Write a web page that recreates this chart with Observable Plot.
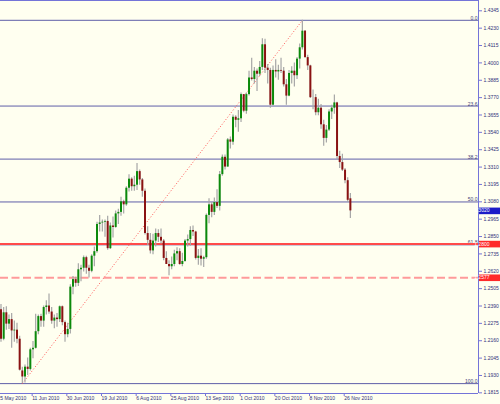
<!DOCTYPE html>
<html>
<head>
<meta charset="utf-8">
<script src="https://cdn.jsdelivr.net/npm/d3@7"></script>
<script src="https://cdn.jsdelivr.net/npm/@observablehq/plot@0.6"></script>
<style>
  html, body { margin: 0; padding: 0; background: #fffff0; }
  #chart { width: 500px; height: 404px; overflow: hidden; }
</style>
</head>
<body>
<div id="chart"></div>
<script>
// ---- Daily candles (EUR/USD, late May - 30 Nov 2010), one value per bar ----
const open = [
  1.2365,1.2170,1.2345,1.2270,1.2300,1.2225,1.2230,1.2170,1.1960,1.1920,1.1985,1.1970,1.2100,
  1.2110,1.2220,1.2320,1.2290,1.2380,1.2390,1.2350,1.2290,1.2310,1.2300,1.2385,1.2280,1.2200,
  1.2235,1.2515,1.2565,1.2540,1.2630,1.2640,1.2710,1.2640,1.2620,1.2720,1.2750,1.2930,1.2940,
  1.2945,1.2950,1.2770,1.2920,1.2910,1.3000,1.3010,1.3080,1.3060,1.3170,1.3230,1.3180,1.3190,
  1.3280,1.3225,1.3150,1.2870,1.2825,1.2755,1.2820,1.2870,1.2845,1.2820,1.2705,1.2665,1.2650,
  1.2665,1.2735,1.2750,1.2665,1.2685,1.2820,1.2830,1.2890,1.2880,1.2705,1.2720,1.2700,1.2710,
  1.2990,1.3060,1.3010,1.3075,1.3050,1.3260,1.3375,1.3310,1.3490,1.3475,1.3640,1.3620,1.3630,
  1.3790,1.3680,1.3790,1.3900,1.3890,1.3945,1.3925,1.3970,1.4120,1.3965,1.3950,1.3720,1.3950,
  1.3940,1.3950,1.3945,1.3855,1.3780,1.3930,1.3945,1.3915,1.4025,1.4100,1.4210,1.4035,1.3980,
  1.3770,1.3770,1.3670,1.3700,1.3590,1.3500,1.3555,1.3675,1.3700,1.3735,1.3380,1.3340,1.3290,
  1.3220,1.3100
];
const high = [
  1.2400,1.2380,1.2385,1.2330,1.2340,1.2290,1.2275,1.2190,1.1985,1.2000,1.2045,1.2110,1.2155,
  1.2336,1.2330,1.2335,1.2390,1.2425,1.2470,1.2380,1.2330,1.2340,1.2390,1.2390,1.2290,1.2275,
  1.2530,1.2585,1.2580,1.2670,1.2660,1.2722,1.2720,1.2660,1.2730,1.2780,1.2945,1.2990,1.2960,
  1.2960,1.2985,1.2940,1.2980,1.3020,1.3030,1.3110,1.3090,1.3180,1.3260,1.3240,1.3250,1.3333,
  1.3290,1.3235,1.3165,1.2915,1.2870,1.2865,1.2900,1.2895,1.2900,1.2830,1.2750,1.2690,1.2715,
  1.2760,1.2775,1.2770,1.2740,1.2830,1.2860,1.2915,1.2920,1.2885,1.2765,1.2770,1.2720,1.3000,
  1.3100,1.3075,1.3105,1.3160,1.3280,1.3390,1.3390,1.3500,1.3510,1.3655,1.3650,1.3685,1.3800,
  1.3790,1.3800,1.3945,1.4030,1.3970,1.3960,1.4010,1.4160,1.4157,1.3990,1.3965,1.3980,1.4020,
  1.3985,1.4030,1.3970,1.3890,1.3950,1.3975,1.4000,1.4035,1.4125,1.4282,1.4215,1.4050,1.3985,
  1.3820,1.3790,1.3760,1.3725,1.3620,1.3585,1.3690,1.3720,1.3787,1.3740,1.3415,1.3395,1.3300,
  1.3240,1.3135
];
const low = [
  1.2150,1.2160,1.2230,1.2235,1.2111,1.2150,1.2140,1.1960,1.1876,1.1880,1.1930,1.1960,1.2040,
  1.2105,1.2200,1.2250,1.2250,1.2330,1.2335,1.2270,1.2240,1.2250,1.2280,1.2260,1.2150,1.2180,
  1.2205,1.2465,1.2515,1.2520,1.2550,1.2615,1.2600,1.2575,1.2610,1.2650,1.2740,1.2880,1.2880,
  1.2845,1.2760,1.2765,1.2840,1.2905,1.2930,1.2985,1.3000,1.3050,1.3145,1.3150,1.3150,1.3155,
  1.3190,1.3110,1.2860,1.2790,1.2735,1.2730,1.2780,1.2810,1.2800,1.2690,1.2665,1.2590,1.2630,
  1.2650,1.2690,1.2660,1.2650,1.2680,1.2780,1.2785,1.2850,1.2695,1.2660,1.2655,1.2645,1.2700,
  1.2935,1.2975,1.2990,1.3035,1.3020,1.3250,1.3290,1.3310,1.3430,1.3455,1.3570,1.3540,1.3605,
  1.3670,1.3660,1.3780,1.3880,1.3860,1.3810,1.3910,1.3950,1.3930,1.3860,1.3700,1.3715,1.3900,
  1.3885,1.3930,1.3840,1.3720,1.3775,1.3860,1.3840,1.3890,1.3960,1.4085,1.4030,1.3950,1.3765,
  1.3690,1.3650,1.3650,1.3560,1.3448,1.3470,1.3545,1.3625,1.3660,1.3357,1.3300,1.3280,1.3200,
  1.3075,1.2969
];
const close = [
  1.2170,1.2345,1.2270,1.2300,1.2225,1.2230,1.2170,1.1965,1.1920,1.1985,1.1970,1.2100,1.2110,
  1.2220,1.2320,1.2290,1.2380,1.2390,1.2350,1.2290,1.2310,1.2300,1.2385,1.2280,1.2200,1.2235,
  1.2515,1.2565,1.2540,1.2630,1.2640,1.2710,1.2640,1.2620,1.2720,1.2750,1.2930,1.2940,1.2945,
  1.2950,1.2770,1.2920,1.2910,1.3000,1.3010,1.3080,1.3060,1.3170,1.3230,1.3180,1.3190,1.3280,
  1.3225,1.3150,1.2870,1.2825,1.2755,1.2820,1.2870,1.2845,1.2820,1.2705,1.2665,1.2650,1.2665,
  1.2735,1.2750,1.2665,1.2685,1.2820,1.2830,1.2890,1.2880,1.2705,1.2720,1.2700,1.2710,1.2990,
  1.3060,1.3010,1.3075,1.3050,1.3260,1.3375,1.3310,1.3490,1.3475,1.3640,1.3620,1.3630,1.3790,
  1.3680,1.3790,1.3900,1.3890,1.3945,1.3925,1.3970,1.4120,1.3965,1.3950,1.3720,1.3950,1.3940,
  1.3950,1.3945,1.3855,1.3780,1.3930,1.3945,1.3915,1.4025,1.4100,1.4210,1.4035,1.3980,1.3770,
  1.3770,1.3670,1.3700,1.3590,1.3500,1.3555,1.3675,1.3700,1.3735,1.3380,1.3340,1.3290,1.3220,
  1.3090,1.3020
];

// ---- Axis ticks ----
const priceTicks = d3.range(0, 23).map(k => +(1.4345 - k * 0.0115).toFixed(4));
const dateTickBars = [0, 13, 26, 39, 52, 65, 78, 91, 104, 117, 130];
const dateTickLabels = ["25 May 2010", "11 Jun 2010", "30 Jun 2010", "19 Jul 2010", "6 Aug 2010",
  "25 Aug 2010", "13 Sep 2010", "1 Oct 2010", "20 Oct 2010", "8 Nov 2010", "26 Nov 2010"];

// ---- Fibonacci retracement levels (percent) ----
const fibLevels = [0, 23.6, 38.2, 50, 61.8, 100];
const fibLabels = ["0.0", "23.6", "38.2", "50.0", "61.8", "100.0"];

// ---- Horizontal price lines and price tags ----
const alertSolid = [1.2800];
const alertDashed = [1.2577];
const bidPrice = [1.3020];
const redTags = [1.2800, 1.2577];

// ---- build tables ----
const bars = open.map((o, k) => ({i: k + 1, o, h: high[k], l: low[k], c: close[k]}));
const hiBar = bars.reduce((a, b) => (b.h > a.h ? b : a));
const loBar = bars.reduce((a, b) => (b.l < a.l ? b : a));
const fibs = fibLevels.map((lv, k) => ({y: hiBar.h - lv / 100 * (hiBar.h - loBar.l), label: fibLabels[k]}));
const tickPos = dateTickBars.map(b => b - 0.5);
const tickLabelMap = new Map(tickPos.map((p, k) => [p, dateTickLabels[k]]));

const xDomain = [0.814, 180.04];
const yDomain = [1.18106, 1.44132];

const axisBlue = "#7474d8";
const textBlue = "#30307a";
const fibBlue = "#5f5fa8";
const bull = "#0b8a0b";
const bear = "#8a1212";
const wick = "#a6a6a6";

const tagShape = {draw(ctx) { ctx.rect(-10.5, -3.3, 21, 6.6); }};

const chart = Plot.plot({
  width: 500, height: 404,
  marginLeft: 0, marginRight: 22, marginTop: 0, marginBottom: 11,
  x: {domain: xDomain, axis: null},
  y: {domain: yDomain, axis: null},
  style: {background: "#fffff0", fontFamily: "'Liberation Sans', Arial, sans-serif", overflow: "visible"},
  marks: [
    // Fibonacci levels
    Plot.ruleY(fibs, {y: "y", stroke: fibBlue, strokeWidth: 1}),
    Plot.text(fibs, {y: "y", text: "label", frameAnchor: "right", textAnchor: "end", lineAnchor: "bottom", dx: -1, dy: -0.5, fontSize: 5, fill: "#44447a"}),
    // alert lines
    Plot.ruleY(alertDashed, {stroke: "#ff9a9a", strokeWidth: 2, strokeDasharray: "8,3.5"}),
    Plot.ruleY(alertSolid, {stroke: "#ff4a4a", strokeWidth: 2}),
    // fib trend line
    Plot.link([{x1: loBar.i, y1: loBar.l, x2: hiBar.i, y2: hiBar.h}], {x1: "x1", y1: "y1", x2: "x2", y2: "y2", stroke: "#ff5555", strokeWidth: 1, strokeDasharray: "1,2"}),
    // candles
    Plot.ruleX(bars, {x: "i", y1: "l", y2: "h", stroke: wick, strokeWidth: 1.2, clip: true}),
    Plot.ruleX(bars, {x: "i", y1: d => Math.min(d.o, d.c), y2: d => Math.max(d.o, d.c), stroke: d => d.c >= d.o ? bull : bear, strokeWidth: 2, clip: true}),
    // frame lines
    Plot.ruleY([yDomain[0]], {stroke: axisBlue, strokeWidth: 1}),
    Plot.ruleY([yDomain[1]], {stroke: axisBlue, strokeWidth: 1}),
    Plot.ruleX([xDomain[1]], {stroke: axisBlue, strokeWidth: 1}),
    // axes
    Plot.axisY({ticks: priceTicks, anchor: "right", tickSize: 3, tickPadding: 2, tickFormat: d3.format(".4f"), fontSize: 5, stroke: axisBlue, fill: textBlue}),
    Plot.axisX({ticks: tickPos, anchor: "bottom", tickSize: 3, tickPadding: 0, tickFormat: d => tickLabelMap.get(d), textAnchor: "start", dx: 0.5, fontSize: 5, stroke: axisBlue, fill: textBlue}),
    // price tags
    Plot.dot(bidPrice, {y: d => d, frameAnchor: "right", dx: 11, symbol: tagShape, fill: "#1c1cc8", stroke: "none"}),
    Plot.text(bidPrice, {y: d => d, text: d => d.toFixed(4), frameAnchor: "right", dx: 11, fontSize: 5, fill: "white"}),
    Plot.dot(redTags, {y: d => d, frameAnchor: "right", dx: 11, symbol: tagShape, fill: "#ff2a2a", stroke: "none"}),
    Plot.text(redTags, {y: d => d, text: d => d.toFixed(4), frameAnchor: "right", dx: 11, fontSize: 5, fill: "white"})
  ]
});
document.getElementById("chart").appendChild(chart);
</script>
</body>
</html>
